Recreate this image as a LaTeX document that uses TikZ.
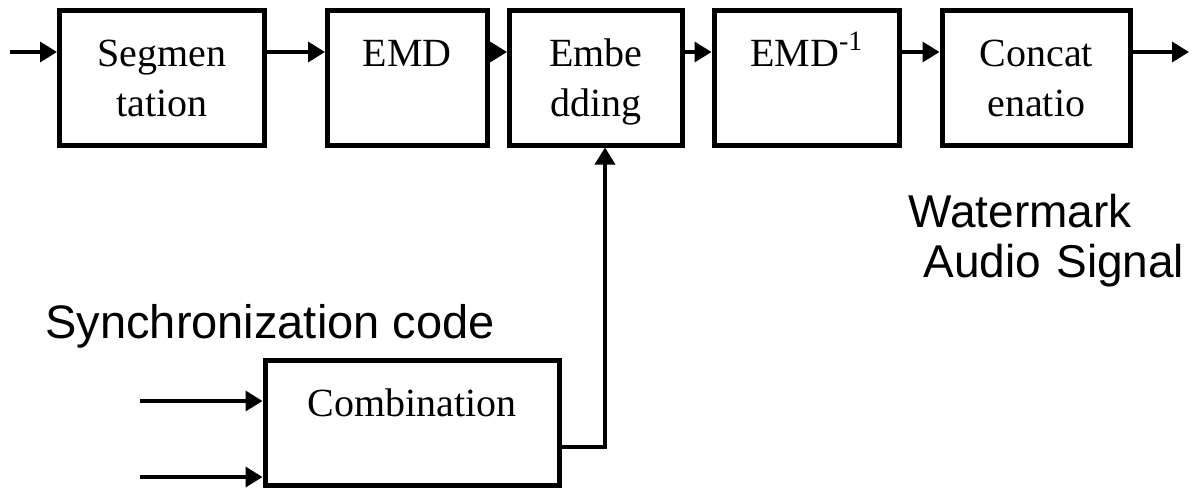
\documentclass[tikz,border=0pt]{standalone}
\usepackage{fontspec}
\setmainfont{Liberation Serif}
\newfontfamily\labelfont{Liberation Sans}
\usetikzlibrary{positioning,arrows.meta}

\begin{document}
\begin{tikzpicture}[
            x=0.5pt, y=-0.5pt,
            block/.style={rectangle, draw, line width=2.5pt, inner sep=0pt, align=center,
                font=\fontsize{20pt}{25pt}\selectfont, text height=28pt, text depth=39.5pt},
            arrow/.style={-{Triangle[length=8.5pt, width=10pt]}, line width=1.8pt},
            sidetext/.style={inner sep=0pt, font=\labelfont\fontsize{23pt}{25pt}\selectfont}
        ]
        \useasboundingbox (0,0) rectangle (1194,488);

        % Main process boxes
        \node[block, text width=102.25pt] (seg) at (161.75,77.5) {Segmen\\tation};
        \node[block, text width=79.75pt, right=29.25pt of seg] (emd) {EMD};
        \node[block, text width=86.25pt, right=8.75pt of emd] (embed) {Embe\\dding};
        \node[block, text width=92.75pt, right=13.5pt of embed] (emdinv) {EMD\textsuperscript{-1}};
        \node[block, text width=94.25pt, right=18.75pt of emdinv] (concat) {Concat\\enatio};

        % Code box
        \node[block, text width=147.25pt, text depth=34.5pt] (comb) at (412.25,422.5) {Combination};

        % Free ends
        \coordinate (src) at (10,52);
        \coordinate (sink) at (1189,52);
        \coordinate (syncA) at (140,401);
        \coordinate (syncB) at (140,477);
        \coordinate (turn) at (605,447);

        % Arrows between boxes
        \draw[arrow] (src) -- (src -| seg.west);
        \draw[arrow] (seg.east |- src) -- (src -| emd.west);
        \draw[arrow] (emd.east |- src) -- (src -| embed.west);
        \draw[arrow] (embed.east |- src) -- (src -| emdinv.west);
        \draw[arrow] (emdinv.east |- src) -- (src -| concat.west);
        \draw[arrow] (concat.east |- src) -- (sink);

        % Code path
        \draw[arrow] (syncA) -- (syncA -| comb.west);
        \draw[arrow] (syncB) -- (syncB -| comb.west);
        \draw[arrow] (comb.east |- turn) -- (turn) -- (turn |- embed.south);

        % Labels
        \node[sidetext, anchor=base west, font=\labelfont\fontsize{23.5pt}{25pt}\selectfont] (sync) at (45,338) {Synchronization code};
        \node[sidetext, anchor=base west, text width=140pt, align=left] (wm) at (908,227) {Watermark\\\hspace*{7.5pt}Audio Signal};

    \end{tikzpicture}
\end{document}
